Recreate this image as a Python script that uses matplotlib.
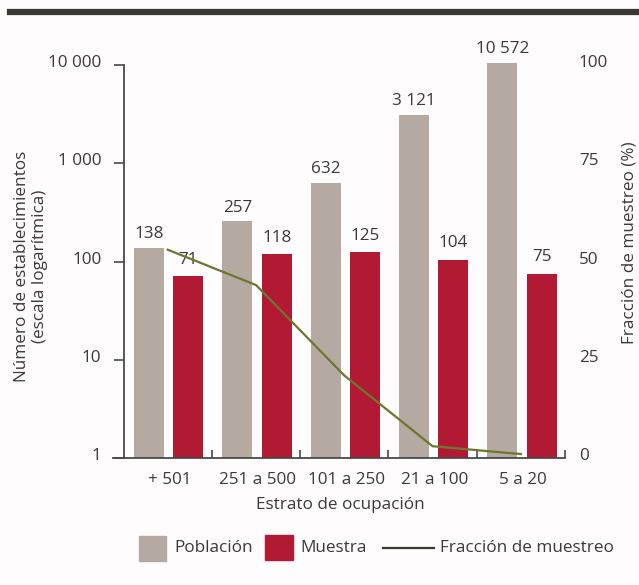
import matplotlib.pyplot as plt
import matplotlib.transforms as mtransforms
from matplotlib.patches import Rectangle
from matplotlib.lines import Line2D
import numpy as np

plt.rcParams['font.family'] = ['Open Sans', 'DejaVu Sans']

estratos = ['+ 501', '251 a 500', '101 a 250', '21 a 100', '5 a 20']
poblacion = [138, 257, 632, 3121, 10572]
muestra = [71, 118, 125, 104, 75]
fraccion = [53, 44, 21, 3, 1]
etiquetas_pob = ['138', '257', '632', '3 121', '10 572']
etiquetas_mue = ['71', '118', '125', '104', '75']

gris = '#b4aaa2'
rojo = '#b21a33'
verde = '#6e7630'
texto = '#3a3a3a'
fs = 12.3

W, H = 639, 585
fig = plt.figure(figsize=(6.39, 5.85), dpi=100)
fig.patch.set_facecolor('#fefcfc')
# el eje log llega un poco por encima de 10 000 para que quepa la barra de 10 572
ytop = 12000
frac_top = 100 * np.log10(ytop) / 4
alto = 393 * np.log10(ytop) / 4
ax = fig.add_axes([113/W, 1-458/H, 452/W, alto/H])
ax.set_facecolor('none')

x = np.arange(len(estratos))
b1 = ax.bar(x + 0.29, poblacion, width=0.34, color=gris)
b2 = ax.bar(x + 0.735, muestra, width=0.34, color=rojo)

for bar, lab in zip(b1, etiquetas_pob):
    ax.annotate(lab, (bar.get_x() + bar.get_width()/2, bar.get_height()),
                xytext=(0, 4), textcoords='offset points', ha='center', va='bottom',
                fontsize=fs, color=texto, annotation_clip=False)
for bar, lab in zip(b2, etiquetas_mue):
    ax.annotate(lab, (bar.get_x() + bar.get_width()/2, bar.get_height()),
                xytext=(0, 6), textcoords='offset points', ha='center', va='bottom',
                fontsize=fs, color=texto, annotation_clip=False)

ax.set_yscale('log')
ax.set_ylim(1, ytop)
ax.set_xlim(-0.12, 5)
ax.set_yticks([1, 10, 100, 1000, 10000])
ax.set_yticklabels(['1', '10', '100', '1 000', '10 000'])
ax.minorticks_off()
ax.tick_params(axis='y', direction='out', length=7, width=1.2, pad=9,
               labelsize=fs, colors='#4a4a4a', labelcolor=texto)
ax.set_xticks([1, 2, 3, 4, 5])
ax.set_xticklabels([])
ax.tick_params(axis='x', direction='in', length=6, width=1.2, colors='#4a4a4a')
for i, lab in enumerate(estratos):
    ax.text(i + 0.52, -0.035, lab, transform=ax.get_xaxis_transform(),
            ha='center', va='top', fontsize=fs, color=texto)
for s in ['top', 'right']:
    ax.spines[s].set_visible(False)
ax.spines['left'].set_position(('data', 0))
ax.spines['left'].set_bounds(1, 10000)
for s in ['left', 'bottom']:
    ax.spines[s].set_color('#4a4a4a')
    ax.spines[s].set_linewidth(1.3)

off = mtransforms.ScaledTranslation(0, 4/100, fig.dpi_scale_trans)
for t in ax.get_yticklabels():
    t.set_transform(t.get_transform() + off)

ax2 = ax.twinx()
ax2.set_ylim(0, frac_top)
ax2.plot(x + 0.5, fraccion, color=verde, linewidth=1.6)
ax2.set_yticks([0, 25, 50, 75, 100])
ax2.tick_params(axis='y', length=0, pad=10, labelsize=fs, labelcolor=texto)
for s in ax2.spines.values():
    s.set_visible(False)
for t in ax2.get_yticklabels():
    t.set_transform(t.get_transform() + off)

fig.text(31/W, 1-266/H, 'Número de establecimientos\n(escala logarítmica)',
         rotation=90, ha='center', va='center', multialignment='center',
         fontsize=fs, color=texto, linespacing=1.15)
fig.text(630/W, 1-243/H, 'Fracción de muestreo (%)', rotation=90,
         ha='center', va='center', fontsize=fs, color=texto)
fig.text(340/W, 1-505/H, 'Estrato de ocupación', ha='center', va='center',
         fontsize=fs, color=texto)

# leyenda dibujada a mano
fig.add_artist(Rectangle((139/W, 1-561/H), 27/W, 25/H, transform=fig.transFigure,
                         color=gris))
fig.text(174/W, 1-548/H, 'Población', ha='left', va='center', fontsize=fs, color=texto)
fig.add_artist(Rectangle((265/W, 1-560/H), 28/W, 25/H, transform=fig.transFigure,
                         color=rojo))
fig.text(300/W, 1-548/H, 'Muestra', ha='left', va='center', fontsize=fs, color=texto)
fig.add_artist(Line2D([383/W, 434/W], [1-548/H, 1-548/H], transform=fig.transFigure,
                      color='#3a3a2e', linewidth=1.6))
fig.text(440/W, 1-548/H, 'Fracción de muestreo', ha='left', va='center',
         fontsize=fs, color=texto)

# franja superior
fig.add_artist(Line2D([10/W, 1], [1-12/H, 1-12/H], transform=fig.transFigure,
                      color='#3b3733', linewidth=4.5))

fig.savefig('out.png', dpi=100, facecolor=fig.get_facecolor())
